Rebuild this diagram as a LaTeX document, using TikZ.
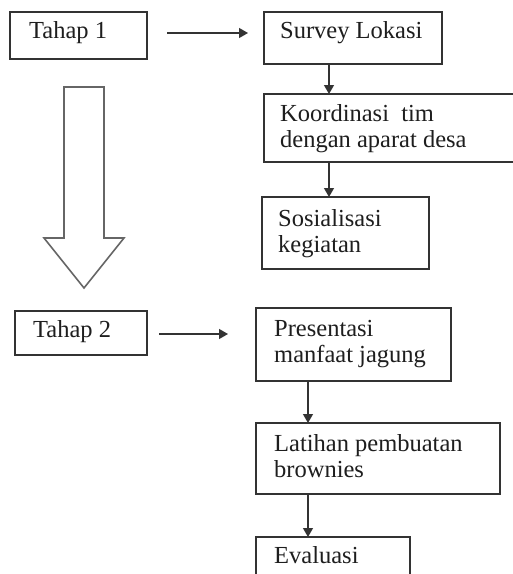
\documentclass[tikz,border=0pt]{standalone}
\usepackage{fontspec}
\setmainfont{Liberation Serif}
\usetikzlibrary{arrows.meta}
\definecolor{lc}{HTML}{333333}
\definecolor{hc}{HTML}{666666}
\definecolor{tc}{HTML}{1E1E1E}
\begin{document}
\begin{tikzpicture}[x=1pt,y=-1pt,
  box/.style={draw=lc,line width=1.3pt,anchor=north west,inner sep=0pt,outer sep=0pt},
  txt/.style={anchor=base west,inner sep=0pt,text=tc,font=\fontsize{24.5}{26}\selectfont,align=left},
  arr/.style={draw=lc,line width=1.3pt,-{Triangle[length=9pt,width=10pt]}},
  hollow/.style={draw=hc,line width=1.6pt,fill=white,line join=miter}]
\useasboundingbox[fill=white] (0,0) rectangle (513,574);
% boxes
\node[box,minimum width=137pt,minimum height=47pt] (t1) at (10,12) {};
\node[box,minimum width=178pt,minimum height=52pt] (s1) at (264,12) {};
\node[box,minimum width=260pt,minimum height=68pt] (k1) at (264,94) {};
\node[box,minimum width=167pt,minimum height=72pt] (so) at (262,197) {};
\node[box,minimum width=132pt,minimum height=44pt] (t2) at (15,311) {};
\node[box,minimum width=195pt,minimum height=73pt] (p2) at (256,308) {};
\node[box,minimum width=244pt,minimum height=71pt] (l2) at (256,423) {};
\node[box,minimum width=154pt,minimum height=60pt] (e2) at (256,537) {};
% texts (anchor = baseline of the last line)
\node[txt] (t1t) at (29,38) {Tahap 1};
\node[txt] (s1t) at (280,38) {Survey Lokasi};
\node[txt] (k1t) at (280,147) {Koordinasi\ \ tim\\dengan aparat desa};
\node[txt] (sot) at (278,252) {Sosialisasi\\kegiatan};
\node[txt] (t2t) at (33,337) {Tahap 2};
\node[txt] (p2t) at (274,362) {Presentasi\\manfaat jagung};
\node[txt] (l2t) at (274,477) {Latihan pembuatan\\brownies};
\node[txt] (e2t) at (274,563) {Evaluasi};
% horizontal arrows
\coordinate (h1a) at (167,33);
\coordinate (h1b) at (248,33);
\coordinate (h2a) at (159,334);
\coordinate (h2b) at (228,334);
\draw[arr] (h1a) -- (h1b);
\draw[arr] (h2a) -- (h2b);
% vertical arrows
\coordinate (v1) at (329,0);
\coordinate (v2) at (308,0);
\draw[arr] (v1 |- s1.south) -- (v1 |- k1.north);
\draw[arr] (v1 |- k1.south) -- (v1 |- so.north);
\draw[arr] (v2 |- p2.south) -- (v2 |- l2.north);
\draw[arr] (v2 |- l2.south) -- (v2 |- e2.north);
% big hollow arrow
\draw[hollow] (64,87) -- (104,87) -- (104,238) -- (124,238) -- (84,288) -- (44,238) -- (64,238) -- cycle;
\end{tikzpicture}
\end{document}
